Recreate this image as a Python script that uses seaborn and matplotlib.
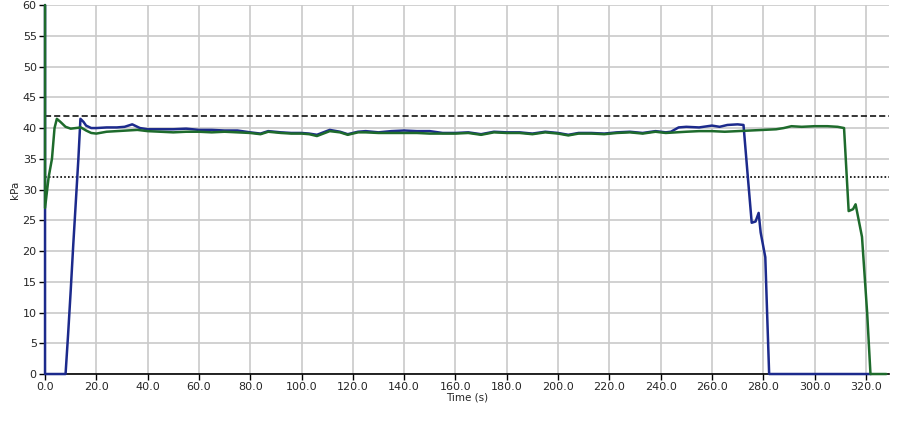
import numpy as np
import pandas as pd
import matplotlib
matplotlib.use('Agg')
import matplotlib.pyplot as plt
import seaborn as sns

# blue sensor trace (time in s, pressure in kPa)
blue_t = [0, 0, 8, 9, 10, 11, 12, 13, 13.8, 15, 16, 18, 20, 24, 28, 31, 34, 37, 40,
          45, 50, 55, 60, 65, 70, 75, 80, 84, 87, 92, 96, 100, 103, 106, 111, 115,
          118, 122, 125, 130, 135, 140, 145, 150, 155, 160, 165, 170, 175, 180, 185,
          190, 195, 200, 204, 208, 213, 218, 223, 228, 233, 238, 242, 244, 247, 250,
          255, 260, 263, 266, 270, 272.3, 274, 275.5, 277, 278.2, 279, 280.8, 281.5,
          282.3, 322]
blue_p = [60, 0, 0, 6.5, 13.5, 21, 28, 35, 41.5, 41.0, 40.4, 40.0, 40.0, 40.1, 40.1,
          40.2, 40.6, 40.0, 39.8, 39.8, 39.8, 39.9, 39.7, 39.7, 39.6, 39.6, 39.3, 39.1,
          39.5, 39.3, 39.2, 39.2, 39.1, 38.9, 39.7, 39.4, 39.0, 39.4, 39.5, 39.3, 39.5,
          39.6, 39.5, 39.5, 39.2, 39.2, 39.3, 39.0, 39.4, 39.3, 39.3, 39.1, 39.4, 39.2,
          38.9, 39.2, 39.2, 39.1, 39.3, 39.4, 39.2, 39.5, 39.3, 39.4, 40.1, 40.2, 40.1,
          40.4, 40.2, 40.5, 40.6, 40.5, 32, 24.6, 24.8, 26.2, 23, 19, 10, 0, 0]

# green sensor trace
green_t = [0, 0, 1.4, 2.7, 3.7, 4.6, 6, 8, 10, 12, 14, 16, 18, 20, 24, 28, 32, 36, 40,
           45, 50, 55, 60, 65, 70, 75, 80, 84, 87, 92, 96, 100, 103, 106, 111, 115, 118,
           122, 125, 130, 135, 140, 145, 150, 155, 160, 165, 170, 175, 180, 185, 190,
           195, 200, 204, 208, 213, 218, 223, 228, 233, 238, 242, 246, 250, 255, 260,
           265, 270, 275, 280, 285, 288, 291, 295, 300, 305, 309, 311.5, 313.3, 315,
           316, 318.5, 320.5, 321.8, 328]
green_p = [60, 27, 32, 35, 40, 41.5, 41.0, 40.2, 39.9, 40.0, 40.1, 39.6, 39.2, 39.1,
           39.4, 39.5, 39.6, 39.7, 39.5, 39.4, 39.3, 39.4, 39.4, 39.3, 39.4, 39.3, 39.2,
           39.0, 39.4, 39.2, 39.1, 39.1, 39.0, 38.7, 39.5, 39.3, 38.9, 39.3, 39.3, 39.2,
           39.2, 39.2, 39.2, 39.1, 39.1, 39.1, 39.2, 38.9, 39.3, 39.2, 39.2, 39.0, 39.3,
           39.1, 38.8, 39.1, 39.1, 39.0, 39.2, 39.3, 39.1, 39.4, 39.2, 39.3, 39.4, 39.5,
           39.5, 39.4, 39.5, 39.6, 39.7, 39.8, 40.0, 40.3, 40.2, 40.3, 40.3, 40.2, 40.0,
           26.5, 26.8, 27.6, 22.3, 10, 0, 0]

upper_limit = 42
lower_limit = 32
x_ticks = np.arange(0, 321, 20)
y_ticks = np.arange(0, 61, 5)

df = pd.concat([
    pd.DataFrame({'time': blue_t, 'kpa': blue_p, 'sensor': 'blue'}),
    pd.DataFrame({'time': green_t, 'kpa': green_p, 'sensor': 'green'}),
])

sns.set_style('white')
plt.rcParams['font.family'] = ['DejaVu Sans']

fig = plt.figure(figsize=(9.08, 4.22), dpi=100)
ax = fig.add_axes([0.0496, 0.1137, 0.9294, 0.8743])

ax.grid(True, color='#cacaca', linewidth=1.2)
ax.set_axisbelow(True)

sns.lineplot(data=df, x='time', y='kpa', hue='sensor', units='sensor',
             palette={'blue': '#1c2a8c', 'green': '#1e6b2c'},
             estimator=None, sort=False, linewidth=1.8, legend=False, ax=ax)
for line in ax.lines:
    line.set_clip_on(False)
    line.set_zorder(3)

ax.axhline(upper_limit, color='black', linestyle=(0, (4, 2)), linewidth=1.1)
ax.axhline(lower_limit, color='black', linestyle=(0, (1, 1.3)), linewidth=1.2)

ax.set_xlim(0, 329)
ax.set_ylim(0, 60)
ax.set_xticks(x_ticks)
ax.set_xticklabels([f'{v:.1f}' for v in x_ticks])
ax.set_yticks(y_ticks)
ax.set_yticklabels([str(v) for v in y_ticks])
ax.tick_params(axis='both', direction='out', length=4, width=1, color='black',
               labelsize=8, pad=2, bottom=True, left=True)

for side in ['top', 'right']:
    ax.spines[side].set_visible(False)
for side in ['left', 'bottom']:
    ax.spines[side].set_color('black')
    ax.spines[side].set_linewidth(1.2)

ax.set_xlabel('Time (s)', fontsize=7.5, labelpad=0)
ax.set_ylabel('kPa', fontsize=7.5, labelpad=2)

fig.savefig('out.png', dpi=100)
